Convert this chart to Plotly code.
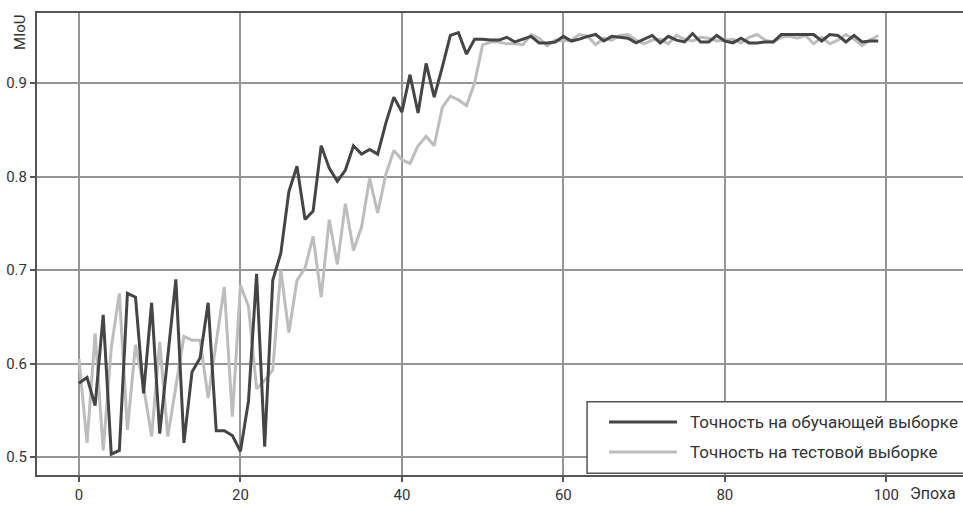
import plotly.graph_objects as go

epochs = list(range(100))

train_acc = [
    0.579, 0.585, 0.555, 0.652, 0.503, 0.507, 0.675, 0.671, 0.568, 0.665,
    0.525, 0.607, 0.690, 0.515, 0.591, 0.606, 0.665, 0.528, 0.528, 0.523,
    0.506, 0.560, 0.696, 0.511, 0.689, 0.718, 0.784, 0.811, 0.754, 0.763,
    0.833, 0.809, 0.795, 0.807, 0.833, 0.824, 0.829, 0.824, 0.857, 0.885,
    0.869, 0.909, 0.868, 0.921, 0.885, 0.917, 0.951, 0.954, 0.931, 0.947,
    0.947, 0.946, 0.946, 0.949, 0.944, 0.947, 0.950, 0.943, 0.943, 0.944,
    0.950, 0.945, 0.947, 0.950, 0.952, 0.945, 0.950, 0.949, 0.948, 0.943,
    0.947, 0.951, 0.943, 0.950, 0.946, 0.944, 0.953, 0.944, 0.944, 0.951,
    0.945, 0.943, 0.948, 0.943, 0.943, 0.944, 0.944, 0.952, 0.952, 0.952,
    0.952, 0.952, 0.945, 0.952, 0.951, 0.944, 0.951, 0.944, 0.945, 0.945,
]

test_acc = [
    0.605, 0.515, 0.632, 0.507, 0.617, 0.675, 0.529, 0.620, 0.575, 0.522,
    0.623, 0.522, 0.575, 0.629, 0.625, 0.625, 0.563, 0.620, 0.682, 0.543,
    0.684, 0.661, 0.573, 0.582, 0.593, 0.700, 0.633, 0.689, 0.702, 0.736,
    0.671, 0.754, 0.706, 0.771, 0.721, 0.746, 0.798, 0.761, 0.802, 0.828,
    0.818, 0.814, 0.833, 0.843, 0.833, 0.874, 0.886, 0.882, 0.876, 0.900,
    0.941, 0.944, 0.944, 0.942, 0.942, 0.941, 0.952, 0.948, 0.940, 0.946,
    0.945, 0.946, 0.952, 0.950, 0.941, 0.948, 0.946, 0.951, 0.952, 0.946,
    0.942, 0.946, 0.947, 0.942, 0.951, 0.947, 0.945, 0.949, 0.948, 0.945,
    0.946, 0.947, 0.943, 0.949, 0.952, 0.946, 0.944, 0.949, 0.950, 0.948,
    0.951, 0.942, 0.949, 0.942, 0.946, 0.952, 0.947, 0.940, 0.946, 0.951,
]

x_ticks = [0, 20, 40, 60, 80, 100]
y_ticks = [0.5, 0.6, 0.7, 0.8, 0.9]
y_tick_labels = ["0.5", "0.6", "0.7", "0.8", "0.9"]

series_names = ["Точность на обучающей выборке", "Точность на тестовой выборке"]
series_colors = ["#454545", "#bdbdbd"]
y_title = "MIoU"
x_title = "Эпоха"

FONT = "Roboto, Liberation Sans, sans-serif"

fig = go.Figure()
fig.add_trace(go.Scatter(x=epochs, y=test_acc, mode="lines", name=series_names[1],
                         line=dict(color=series_colors[1], width=3), showlegend=False))
fig.add_trace(go.Scatter(x=epochs, y=train_acc, mode="lines", name=series_names[0],
                         line=dict(color=series_colors[0], width=3), showlegend=False))

axis_common = dict(
    showgrid=True, gridcolor="#959595", gridwidth=1.5,
    showline=True, linecolor="#555555", linewidth=2,
    ticks="outside", ticklen=5, tickwidth=1.5, tickcolor="#555555",
    zeroline=False, automargin=False,
    tickfont=dict(family=FONT, size=15, color="#333333"),
)

fig.update_xaxes(range=[-5.2, 109.5], tickvals=x_ticks, mirror=True, **axis_common)
fig.update_yaxes(range=[0.4807, 0.975], tickvals=y_ticks, ticktext=y_tick_labels,
                 mirror=False, **axis_common)

# Legend box drawn manually to match the long sample lines
shapes = [
    dict(type="rect", xref="paper", yref="paper", x0=0.594, x1=1.02, y0=0.004, y1=0.1587,
         fillcolor="white", line=dict(color="#555555", width=1.5), layer="above"),
]
legend_y = [0.1147, 0.0498]
for name, color, yy in zip(series_names, series_colors, legend_y):
    shapes.append(dict(type="line", xref="paper", yref="paper", x0=0.6177, x1=0.6911,
                       y0=yy, y1=yy, line=dict(color=color, width=3), layer="above"))

annotations = []
for name, yy in zip(series_names, legend_y):
    annotations.append(dict(xref="paper", yref="paper", x=0.703, y=yy, text=name,
                            showarrow=False, xanchor="left", yanchor="middle",
                            font=dict(family=FONT, size=17, color="#333333")))

annotations.append(dict(xref="paper", yref="paper", x=-0.019, y=1.0, text=y_title,
                        textangle=-90, showarrow=False, xanchor="center", yanchor="top",
                        font=dict(family=FONT, size=15, color="#333333")))
annotations.append(dict(xref="paper", yref="paper", x=0.968, y=-0.015, text=x_title,
                        showarrow=False, xanchor="center", yanchor="top",
                        font=dict(family=FONT, size=16, color="#333333")))

fig.update_layout(
    width=963, height=505,
    margin=dict(l=37, r=0, t=13, b=30),
    plot_bgcolor="white", paper_bgcolor="white",
    shapes=shapes, annotations=annotations,
    font=dict(family=FONT, color="#333333"),
)

fig.write_html(
    "out.html",
    config={"displayModeBar": False},
    post_script="document.body.style.margin='0';document.body.style.overflow='hidden';",
)
